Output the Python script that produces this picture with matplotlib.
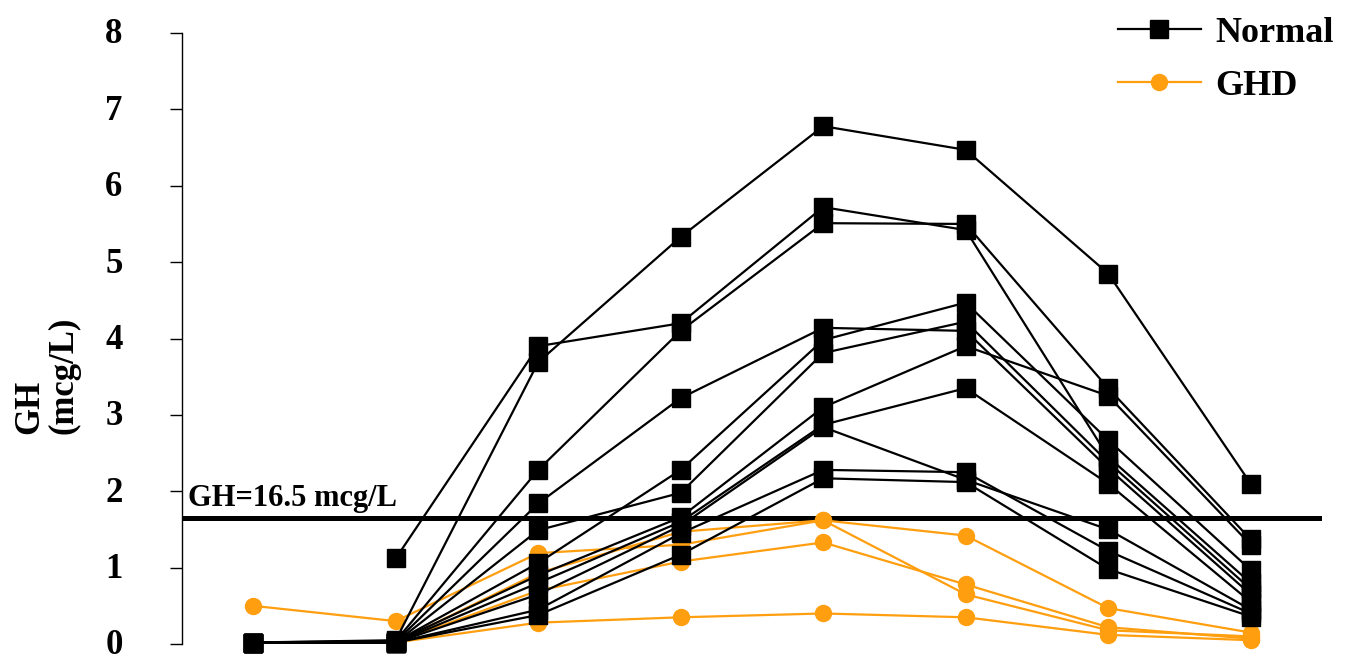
import matplotlib
matplotlib.use("Agg")
import matplotlib.pyplot as plt
import matplotlib.transforms as mtransforms
import numpy as np

plt.rcParams['font.family'] = ['Liberation Serif', 'DejaVu Serif']
plt.rcParams['font.weight'] = 'bold'

# sampling points (no labels on the x axis in the original)
time_points = list(range(8))

# GH values (mcg/L) for the normal children, one list per subject
normal = [
    [0.02, 0.05, 3.69, 5.33, 6.78, 6.47, 4.85, 2.10],
    [np.nan, 1.12, 3.90, 4.20, 5.72, 5.42, 2.45, 0.80],
    [0.02, 0.04, 2.28, 4.10, 5.51, 5.50, 3.35, 1.37],
    [0.02, 0.03, 1.84, 3.22, 4.14, 4.10, 2.30, 0.65],
    [0.02, 0.03, 1.06, 2.28, 3.98, 4.47, 2.67, 0.97],
    [0.02, 0.02, 1.49, 1.98, 3.81, 4.22, 2.38, 0.72],
    [0.02, 0.03, 0.90, 1.66, 3.10, 3.90, 3.25, 1.30],
    [0.02, 0.02, 0.80, 1.60, 2.87, 3.35, 2.10, 0.55],
    [0.02, 0.02, 0.65, 1.55, 2.84, 2.15, 1.50, 0.45],
    [0.02, 0.02, 0.45, 1.45, 2.28, 2.25, 1.22, 0.40],
    [0.02, 0.02, 0.38, 1.17, 2.17, 2.12, 0.98, 0.36],
]

# GH values for the GHD children
ghd = [
    [0.50, 0.30, 1.19, 1.30, 1.62, 1.42, 0.47, 0.15],
    [0.02, 0.02, 0.93, 1.47, 1.62, 0.65, 0.18, 0.10],
    [0.02, 0.02, 0.70, 1.08, 1.33, 0.78, 0.22, 0.07],
    [0.02, 0.02, 0.28, 0.35, 0.40, 0.35, 0.12, 0.05],
]

cutoff = 1.65
cutoff_label = "GH=16.5 mcg/L"

fig = plt.figure(figsize=(13.5, 6.6), dpi=100)
ax = fig.add_axes([0.1348, 0.0242, 0.8444, 0.9258])

ax.axhline(cutoff, color='black', lw=3.6, zorder=1)
ax.text(-0.46, cutoff + 0.06, cutoff_label, fontsize=22, fontweight='bold',
        ha='left', va='bottom')

orange = '#FF9E0F'
for i, s in enumerate(ghd):
    ax.plot(time_points, s, color=orange, lw=1.6, marker='o', markersize=11.5,
            clip_on=False, zorder=2, label='GHD' if i == 0 else None)

for i, s in enumerate(normal):
    ax.plot(time_points, s, color='black', lw=1.6, marker='s', markersize=12.5,
            clip_on=False, zorder=3, label='Normal' if i == 0 else None)

ax.set_xlim(-0.5, 7.5)
ax.set_ylim(0, 8)
ax.set_yticks(range(9))
ax.set_xticks([])
for side in ['top', 'right', 'bottom']:
    ax.spines[side].set_visible(False)
ax.spines['left'].set_linewidth(1.0)
ax.tick_params(axis='y', direction='out', length=9, width=1.0, labelsize=25, pad=40)
# small upward nudge so the "0" stays inside the picture
shift = mtransforms.ScaledTranslation(0, 1.5 / 72, fig.dpi_scale_trans)
for lab in ax.get_yticklabels():
    lab.set_fontweight('bold')
    lab.set_horizontalalignment('center')
    lab.set_verticalalignment('center_baseline')
    lab.set_transform(lab.get_transform() + shift)

fig.text(0.035, 0.432, "GH\n(mcg/L)", rotation=90, fontsize=25, fontweight='bold',
         ha='center', va='center', multialignment='left', linespacing=1.05)

handles, labels = ax.get_legend_handles_labels()
order = [labels.index('Normal'), labels.index('GHD')]
ax.legend([handles[i] for i in order], [labels[i] for i in order],
          loc='upper right', bbox_to_anchor=(1.0, 1.0), bbox_transform=fig.transFigure,
          frameon=False, prop={'size': 26, 'weight': 'bold'}, handlelength=2.3,
          handletextpad=0.4, labelspacing=0.55, borderaxespad=0.05)

fig.savefig('out.png', dpi=100)
